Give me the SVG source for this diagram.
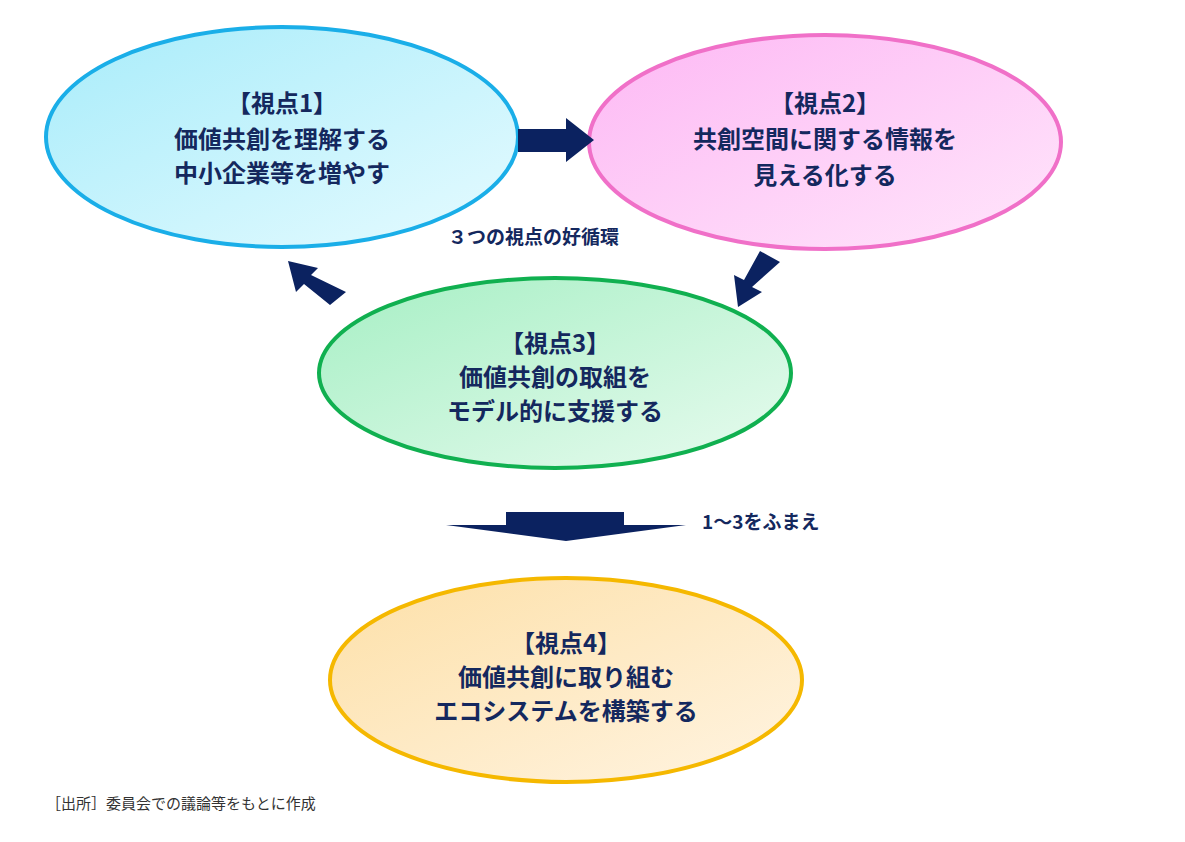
<svg xmlns="http://www.w3.org/2000/svg" width="1185" height="842" viewBox="0 0 1185 842">
<defs>
<linearGradient id="g1" x1="0" y1="0" x2="1" y2="1"><stop offset="0" stop-color="#a8ecfa"/><stop offset="1" stop-color="#e6fbff"/></linearGradient>
<linearGradient id="g2" x1="0" y1="0" x2="1" y2="1"><stop offset="0" stop-color="#fdb8f4"/><stop offset="1" stop-color="#ffe6fb"/></linearGradient>
<linearGradient id="g3" x1="0" y1="0" x2="1" y2="1"><stop offset="0" stop-color="#a6efc4"/><stop offset="1" stop-color="#e8fbef"/></linearGradient>
<linearGradient id="g4" x1="0" y1="0" x2="1" y2="1"><stop offset="0" stop-color="#fde0a8"/><stop offset="1" stop-color="#fff4e2"/></linearGradient>
</defs>
<style>
.t{font-family:"Noto Sans CJK JP","Liberation Sans",sans-serif;font-weight:bold;font-size:24px;fill:#14285e;text-anchor:middle}
.s{font-family:"Noto Sans CJK JP","Liberation Sans",sans-serif;font-weight:bold;font-size:19px;fill:#14285e}
.a{fill:#0b2260}
.e{stroke-width:4}
</style>
<rect width="1185" height="842" fill="#fff"/>
<g id="n1"><ellipse class="e" cx="282" cy="137" rx="236" ry="110" fill="url(#g1)" stroke="#1aaee8"/>
<text class="t" x="282" y="112">【視点1】</text><text class="t" x="282" y="148">価値共創を理解する</text><text class="t" x="282" y="182">中小企業等を増やす</text></g>
<g id="n2"><ellipse class="e" cx="825" cy="142" rx="236" ry="107" fill="url(#g2)" stroke="#f070c8"/>
<text class="t" x="825" y="112">【視点2】</text><text class="t" x="825" y="148">共創空間に関する情報を</text><text class="t" x="825" y="184">見える化する</text></g>
<g id="n3"><ellipse class="e" cx="555" cy="373" rx="236" ry="95" fill="url(#g3)" stroke="#10b050"/>
<text class="t" x="555" y="352">【視点3】</text><text class="t" x="555" y="386">価値共創の取組を</text><text class="t" x="555" y="420">モデル的に支援する</text></g>
<g id="n4"><ellipse class="e" cx="566" cy="680" rx="236" ry="102" fill="url(#g4)" stroke="#f5b800"/>
<text class="t" x="566" y="652">【視点4】</text><text class="t" x="566" y="686">価値共創に取り組む</text><text class="t" x="566" y="720">エコシステムを構築する</text></g>
<g id="connectors">
<polygon class="a" points="518,129 566,129 566,118 594,140 566,162 566,152 518,152"/>
<polygon class="a" points="780,262 760,251 744,280 734,275 738,307 762,292 752,287"/>
<polygon class="a" points="346,292 330,305 304,284 296,292 288,261 318,268 311,275"/>
<polygon class="a" points="506,512 624,512 624,525 686,525 566,541 446,525 506,525"/>
</g>
<text class="s" x="448" y="244">３つの視点の好循環</text>
<text class="s" x="702" y="529">1～3をふまえ</text>
<text x="46" y="809" style="font-family:'Noto Sans CJK JP','Liberation Sans',sans-serif;font-size:15px;fill:#333">［出所］委員会での議論等をもとに作成</text>
</svg>
